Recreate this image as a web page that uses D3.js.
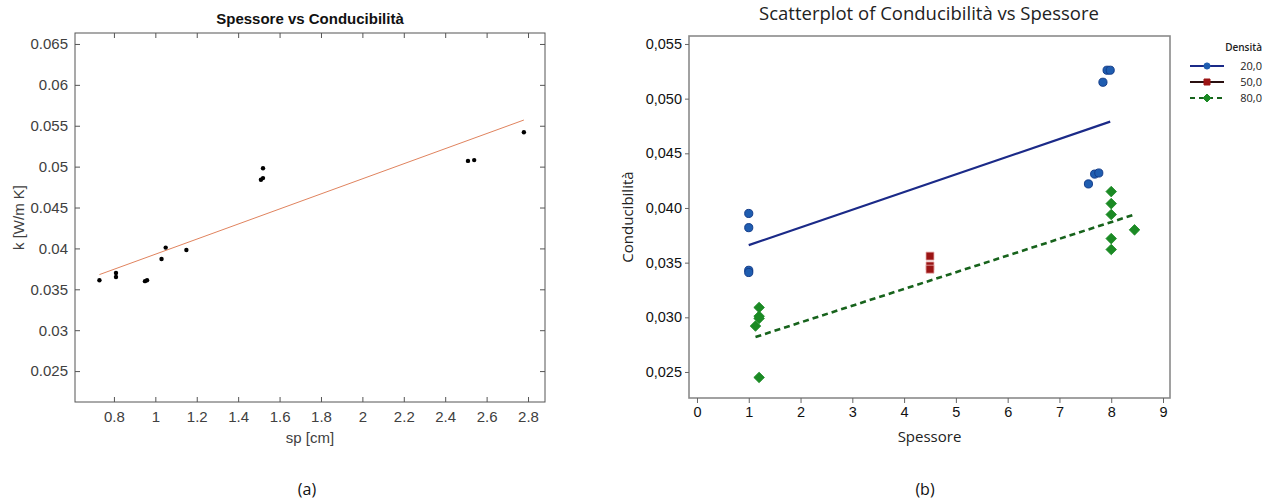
<!DOCTYPE html>
<html><head><meta charset="utf-8">
<script src="https://cdn.jsdelivr.net/npm/d3@7"></script>
<style>body{margin:0;background:#fff} svg{display:block}</style>
</head><body>
<svg id="c" width="1277" height="501"></svg>
<script>
// ---------- Chart (a) data ----------
const spA = [0.73, 0.81, 0.81, 0.95, 0.96, 1.03, 1.05, 1.15, 1.51, 1.52, 1.52, 2.51, 2.54, 2.78];
const kA  = [0.0361, 0.0370, 0.0365, 0.0360, 0.0361, 0.0387, 0.0401, 0.0398, 0.0484, 0.0486, 0.0498, 0.0507, 0.0508, 0.0542];
const fitAx = [0.73, 2.78];
const fitAy = [0.0368, 0.0557];
const xTicksA = [0.8, 1, 1.2, 1.4, 1.6, 1.8, 2, 2.2, 2.4, 2.6, 2.8];
const yTicksA = [0.025, 0.03, 0.035, 0.04, 0.045, 0.05, 0.055, 0.06, 0.065];

// ---------- Chart (b) data ----------
const densLevels = ["20,0", "50,0", "80,0"];
const sp20 = [1, 1, 1, 1, 7.56, 7.68, 7.76, 7.84, 7.92, 7.98];
const k20  = [0.0395, 0.0382, 0.0343, 0.0341, 0.0422, 0.0431, 0.0432, 0.0515, 0.0526, 0.0526];
const sp50 = [4.5, 4.5, 4.5];
const k50  = [0.0356, 0.0347, 0.0344];
const sp80 = [1.2, 1.2, 1.2, 1.13, 1.2, 8, 8, 8, 8, 8, 8.45];
const k80  = [0.0309, 0.0301, 0.0299, 0.0292, 0.0245, 0.0415, 0.0404, 0.0394, 0.0372, 0.0362, 0.0380];
const fit20x = [1, 7.98], fit20y = [0.0366, 0.0479];
const fit80x = [1.13, 8.45], fit80y = [0.0282, 0.0394];
const xTicksB = [0, 1, 2, 3, 4, 5, 6, 7, 8, 9];
const yTicksB = [0.025, 0.030, 0.035, 0.040, 0.045, 0.050, 0.055];

const svg = d3.select("#c");

// ================= Chart (a) =================
{
  const L = {x0: 75, x1: 545, y0: 33, y1: 402};
  const x = d3.scaleLinear().domain([0.612, 2.882]).range([L.x0, L.x1]);
  const y = d3.scaleLinear().domain([0.02122, 0.06634]).range([L.y1, L.y0]);
  const g = svg.append("g").attr("font-family", "Liberation Sans, Arial, sans-serif");
  const fmt = d => String(+d.toFixed(3));

  const ax = (axis, tr, labels) => {
    const a = g.append("g").attr("transform", tr).call(axis);
    a.select(".domain").remove();
    a.selectAll(".tick line").attr("stroke", "#555");
    a.selectAll(".tick text").attr("fill", "#404040").attr("font-size", 15);
    if (!labels) a.selectAll(".tick text").remove();
    return a;
  };
  ax(d3.axisBottom(x).tickValues(xTicksA).tickFormat(fmt).tickSizeInner(-5).tickSizeOuter(0).tickPadding(9), `translate(0,${L.y1})`, true);
  ax(d3.axisTop(x).tickValues(xTicksA).tickSizeInner(-5).tickSizeOuter(0), `translate(0,${L.y0})`, false);
  ax(d3.axisLeft(y).tickValues(yTicksA).tickFormat(fmt).tickSizeInner(-5).tickSizeOuter(0).tickPadding(7), `translate(${L.x0},0)`, true);
  ax(d3.axisRight(y).tickValues(yTicksA).tickSizeInner(-5).tickSizeOuter(0), `translate(${L.x1},0)`, false);

  g.append("rect").attr("x", L.x0).attr("y", L.y0).attr("width", L.x1 - L.x0).attr("height", L.y1 - L.y0)
    .attr("fill", "none").attr("stroke", "#555").attr("stroke-width", 1);

  const line = d3.line().x(d => x(d[0])).y(d => y(d[1]));
  g.append("path").datum(d3.zip(fitAx, fitAy)).attr("d", line)
    .attr("fill", "none").attr("stroke", "#e0835e").attr("stroke-width", 1);

  g.selectAll("circle.pa").data(d3.zip(spA, kA)).join("circle")
    .attr("cx", d => x(d[0])).attr("cy", d => y(d[1])).attr("r", 2.2).attr("fill", "#000");

  g.append("text").attr("x", (L.x0 + L.x1) / 2).attr("y", 24).attr("text-anchor", "middle")
    .attr("font-size", 15).attr("font-weight", "bold").attr("fill", "#111").text("Spessore vs Conducibilità");
  g.append("text").attr("x", (L.x0 + L.x1) / 2).attr("y", 443).attr("text-anchor", "middle")
    .attr("font-size", 15).attr("fill", "#404040").text("sp [cm]");
  g.append("text").attr("transform", `translate(24,${(L.y0 + L.y1) / 2}) rotate(-90)`).attr("text-anchor", "middle")
    .attr("font-size", 15).attr("fill", "#404040").text("k [W/m K]");
  svg.append("text").attr("x", 307).attr("y", 495).attr("text-anchor", "middle")
    .attr("font-family", "Open Sans, sans-serif").attr("font-size", 16).attr("fill", "#111").text("(a)");
}

// ================= Chart (b) =================
{
  const R = {x0: 689, x1: 1170, y0: 36, y1: 398};
  const x = d3.scaleLinear().domain([-0.154, 9.135]).range([R.x0, R.x1]);
  const y = d3.scaleLinear().domain([0.02262, 0.05573]).range([R.y1, R.y0]);
  const g = svg.append("g").attr("font-family", "Open Sans, sans-serif");
  const fmtB = d => d3.format(".3f")(d).replace(".", ",");

  g.append("rect").attr("x", R.x0).attr("y", R.y0).attr("width", R.x1 - R.x0).attr("height", R.y1 - R.y0)
    .attr("fill", "#fff").attr("stroke", "#8a8a8a").attr("stroke-width", 1.6);

  const xa = g.append("g").attr("transform", `translate(0,${R.y1})`)
    .call(d3.axisBottom(x).tickValues(xTicksB).tickFormat(d3.format("d")).tickSize(5).tickPadding(4));
  xa.select(".domain").remove();
  xa.selectAll(".tick line").attr("stroke", "#666");
  xa.selectAll(".tick text").attr("fill", "#111").attr("font-size", 14.5).attr("font-weight", 500);

  const ya = g.append("g").attr("transform", `translate(${R.x0},0)`)
    .call(d3.axisLeft(y).tickValues(yTicksB).tickFormat(fmtB).tickSize(4).tickPadding(3));
  ya.select(".domain").remove();
  ya.selectAll(".tick line").attr("stroke", "#666");
  ya.selectAll(".tick text").attr("fill", "#111").attr("font-size", 14.5).attr("font-weight", 500);

  const line = d3.line().x(d => x(d[0])).y(d => y(d[1]));
  g.append("path").datum(d3.zip(fit20x, fit20y)).attr("d", line)
    .attr("fill", "none").attr("stroke", "#1b2a88").attr("stroke-width", 2.2);
  g.append("path").datum(d3.zip(fit80x, fit80y)).attr("d", line)
    .attr("fill", "none").attr("stroke", "#17631c").attr("stroke-width", 2.6).attr("stroke-dasharray", "6,4");

  const circ = d3.symbol().type(d3.symbolCircle).size(52);
  const sq = d3.symbol().type(d3.symbolSquare).size(64);
  const diaPath = s => `M0,${-s}L${s},0L0,${s}L${-s},0Z`;

  g.selectAll("path.s20").data(d3.zip(sp20, k20)).join("path").attr("class", "s20")
    .attr("transform", d => `translate(${x(d[0])},${y(d[1])})`).attr("d", circ)
    .attr("fill", "#1f5db0").attr("stroke", "#133c8a").attr("stroke-width", 1);
  g.selectAll("path.s50").data(d3.zip(sp50, k50)).join("path").attr("class", "s50")
    .attr("transform", d => `translate(${x(d[0])},${y(d[1])})`).attr("d", sq)
    .attr("fill", "#9b1414").attr("stroke", "#e8b0b0").attr("stroke-width", 0.8);
  g.selectAll("path.s80").data(d3.zip(sp80, k80)).join("path").attr("class", "s80")
    .attr("transform", d => `translate(${x(d[0])},${y(d[1])})`).attr("d", diaPath(5.3))
    .attr("fill", "#1b8a24").attr("stroke", "#1b8a24").attr("stroke-width", 0.8);

  g.append("text").attr("x", 929).attr("y", 20).attr("text-anchor", "middle")
    .attr("font-size", 18.5).attr("fill", "#222").text("Scatterplot of Conducibilità vs Spessore");
  g.append("text").attr("x", (R.x0 + R.x1) / 2).attr("y", 442).attr("text-anchor", "middle")
    .attr("font-size", 15).attr("fill", "#222").text("Spessore");
  g.append("text").attr("transform", `translate(633,${(R.y0 + R.y1) / 2}) rotate(-90)`).attr("text-anchor", "middle")
    .attr("font-size", 15).attr("fill", "#222").text("Conducibilità");
  svg.append("text").attr("x", 925).attr("y", 495).attr("text-anchor", "middle")
    .attr("font-family", "Open Sans, sans-serif").attr("font-size", 16).attr("fill", "#111").text("(b)");

  // legend
  const lg = g.append("g");
  lg.append("text").attr("x", 1262).attr("y", 51).attr("text-anchor", "end")
    .attr("font-size", 10).attr("font-weight", 600).attr("fill", "#222").text("Densità");
  const legStyles = [
    {stroke: "#1b2a88", dash: null, d: d3.symbol().type(d3.symbolCircle).size(30)(), fill: "#1f5db0"},
    {stroke: "#2a1010", dash: null, d: d3.symbol().type(d3.symbolSquare).size(36)(), fill: "#9b1414"},
    {stroke: "#17631c", dash: "5,4", d: diaPath(4), fill: "#1b8a24"}
  ];
  densLevels.forEach((lab, i) => {
    const yy = 66 + i * 16;
    const s = legStyles[i];
    lg.append("line").attr("x1", 1190).attr("x2", 1224).attr("y1", yy).attr("y2", yy)
      .attr("stroke", s.stroke).attr("stroke-width", 2).attr("stroke-dasharray", s.dash);
    lg.append("path").attr("transform", `translate(1207,${yy})`).attr("d", s.d)
      .attr("fill", s.fill).attr("stroke", s.fill);
    lg.append("text").attr("x", 1262).attr("y", yy + 4).attr("text-anchor", "end")
      .attr("font-size", 11).attr("fill", "#222").text(lab);
  });
}
</script>
</body></html>
